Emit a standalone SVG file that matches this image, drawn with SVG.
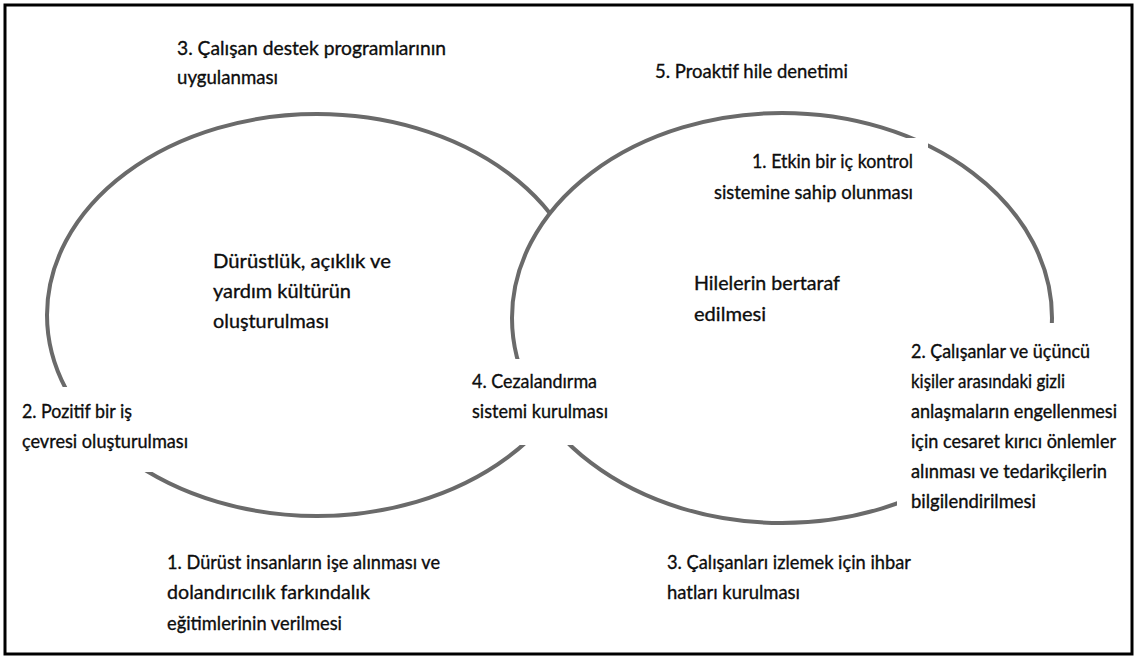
<svg xmlns="http://www.w3.org/2000/svg" width="1134" height="657" viewBox="0 0 1134 657">
  <style>
    .ring { fill: none; stroke: #6a6a6a; stroke-width: 4; }
    .ring.front { fill: #ffffff; }
    .pad { fill: #ffffff; }
    text { font-family: Lato, "Open Sans", "Liberation Sans", sans-serif; font-size: 20px; fill: #0d0d0d; stroke: #0d0d0d; stroke-width: 0.35px; }
    #right-side-label text { font-size: 18.5px; }
  </style>

  <!-- frame -->
  <rect x="5" y="5" width="1127" height="649" fill="#ffffff" stroke="#000000" stroke-width="3"/>

  <!-- the two overlapping rings; the right one is filled so it hides the left ring inside it -->
  <g id="connectors">
    <ellipse class="ring" cx="317" cy="315" rx="270" ry="201"/>
    <ellipse class="ring front" cx="782" cy="318" rx="270" ry="205"/>
  </g>

  <g id="top-left-label">
    <text x="177" y="55" textLength="269" lengthAdjust="spacingAndGlyphs">3. Çalışan destek programlarının</text>
    <text x="177" y="84" textLength="101" lengthAdjust="spacingAndGlyphs">uygulanması</text>
  </g>

  <g id="top-right-label">
    <text x="655" y="78" textLength="193" lengthAdjust="spacingAndGlyphs">5. Proaktif hile denetimi</text>
  </g>

  <g id="left-center">
    <text x="213" y="268" textLength="178" lengthAdjust="spacingAndGlyphs">Dürüstlük, açıklık ve</text>
    <text x="213" y="298" textLength="138" lengthAdjust="spacingAndGlyphs">yardım kültürün</text>
    <text x="213" y="328" textLength="116" lengthAdjust="spacingAndGlyphs">oluşturulması</text>
  </g>

  <g id="right-center">
    <text x="694" y="290" textLength="146" lengthAdjust="spacingAndGlyphs">Hilelerin bertaraf</text>
    <text x="694" y="321" textLength="72" lengthAdjust="spacingAndGlyphs">edilmesi</text>
  </g>

  <g id="right-top-label">
    <rect class="pad" x="705" y="138" width="223" height="72"/>
    <text x="913" y="168" text-anchor="end" textLength="161" lengthAdjust="spacingAndGlyphs">1. Etkin bir iç kontrol</text>
    <text x="913" y="199" text-anchor="end" textLength="199" lengthAdjust="spacingAndGlyphs">sistemine sahip olunması</text>
  </g>

  <g id="left-side-label">
    <rect class="pad" x="12" y="387" width="185" height="85"/>
    <text x="22" y="418" textLength="110" lengthAdjust="spacingAndGlyphs">2. Pozitif bir iş</text>
    <text x="22" y="448" textLength="166" lengthAdjust="spacingAndGlyphs">çevresi oluşturulması</text>
  </g>

  <g id="middle-label">
    <rect class="pad" x="462" y="359" width="150" height="86"/>
    <text x="472" y="388" textLength="125" lengthAdjust="spacingAndGlyphs">4. Cezalandırma</text>
    <text x="472" y="418" textLength="136" lengthAdjust="spacingAndGlyphs">sistemi kurulması</text>
  </g>

  <g id="right-side-label">
    <rect class="pad" x="897" y="323" width="231" height="200"/>
    <text x="911" y="358" textLength="179" lengthAdjust="spacingAndGlyphs">2. Çalışanlar ve üçüncü</text>
    <text x="911" y="388" textLength="154" lengthAdjust="spacingAndGlyphs">kişiler arasındaki gizli</text>
    <text x="911" y="418" textLength="206" lengthAdjust="spacingAndGlyphs">anlaşmaların engellenmesi</text>
    <text x="911" y="448" textLength="205" lengthAdjust="spacingAndGlyphs">için cesaret kırıcı önlemler</text>
    <text x="911" y="478" textLength="196" lengthAdjust="spacingAndGlyphs">alınması ve tedarikçilerin</text>
    <text x="911" y="508" textLength="125" lengthAdjust="spacingAndGlyphs">bilgilendirilmesi</text>
  </g>

  <g id="bottom-left-label">
    <text x="167" y="569" textLength="273" lengthAdjust="spacingAndGlyphs">1. Dürüst insanların işe alınması ve</text>
    <text x="167" y="599" textLength="203" lengthAdjust="spacingAndGlyphs">dolandırıcılık farkındalık</text>
    <text x="167" y="630" textLength="175" lengthAdjust="spacingAndGlyphs">eğitimlerinin verilmesi</text>
  </g>

  <g id="bottom-right-label">
    <text x="667" y="569" textLength="244" lengthAdjust="spacingAndGlyphs">3. Çalışanları izlemek için ihbar</text>
    <text x="667" y="599" textLength="133" lengthAdjust="spacingAndGlyphs">hatları kurulması</text>
  </g>
</svg>
